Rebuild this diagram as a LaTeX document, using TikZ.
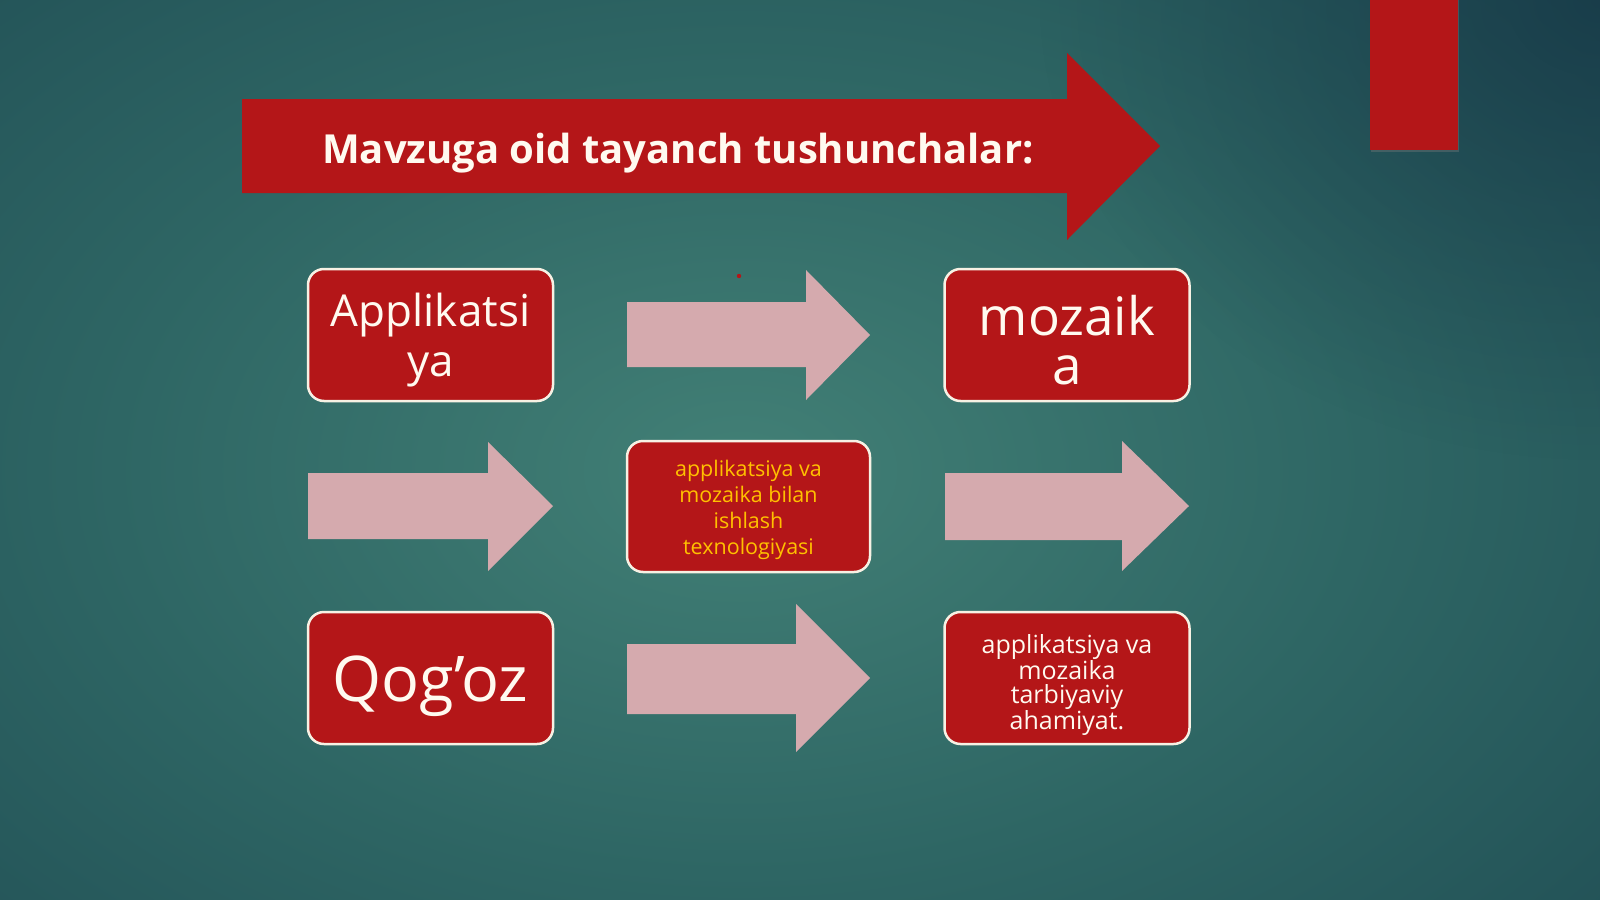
\documentclass[tikz,border=0pt]{standalone}
\usepackage{fontspec}
\setmainfont{Open Sans}
\usetikzlibrary{shadows,fadings}
\definecolor{bgA}{RGB}{66,128,118}
\definecolor{bgB}{RGB}{46,102,100}
\definecolor{bgC}{RGB}{30,74,82}
\definecolor{bgD}{RGB}{24,58,70}
\definecolor{navydark}{RGB}{19,48,66}
\definecolor{redbox}{RGB}{180,22,24}
\definecolor{pinkarrow}{RGB}{213,170,174}
\definecolor{creamline}{RGB}{247,241,228}
\definecolor{creamtext}{RGB}{255,250,240}
\definecolor{yellowtext}{RGB}{255,192,0}
\pgfdeclareradialshading{bgshade}{\pgfpoint{0bp}{0bp}}{color(0bp)=(bgA); color(18bp)=(bgB); color(38bp)=(bgC); color(50bp)=(bgD)}
\tikzfading[name=myradfade, inner color=transparent!0, outer color=transparent!100]
\tikzset{
  conceptbox/.style={draw=creamline, line width=2.5pt, fill=redbox, rounded corners=16pt,
    minimum width=245pt, minimum height=132pt, inner sep=0pt},
  boxtext/.style={align=center, text=creamtext, inner sep=0pt},
  pinkshape/.style={fill=pinkarrow},
  redshape/.style={fill=redbox},
}
\begin{document}
\begin{tikzpicture}[x=1pt,y=-1pt]
\useasboundingbox (0,0) rectangle (1600,899);
% background
\begin{scope}
\clip (0,0) rectangle (1600,899);
\fill[bgD] (0,0) rectangle (1600,899);
\shade[shading=bgshade] (-130,-90) rectangle (1610,1030);
\fill[navydark, path fading=myradfade, fill opacity=0.6] (1600,0) ellipse [x radius=560, y radius=460];
\end{scope}
% top-right red bar
\fill[redbox, drop shadow={shadow xshift=1pt, shadow yshift=-2pt, opacity=0.35}] (1370,-5) rectangle (1458,150);
% big title arrow
\fill[redshape] (242,99) -- (1067,99) -- (1067,53) -- (1160,146) -- (1067,240) -- (1067,193) -- (242,193) -- cycle;
\node[text=creamtext, font=\bfseries\fontsize{40}{44}\selectfont] (title) at (678,153) {Mavzuga oid tayanch tushunchalar:};
% boxes
\node[conceptbox] (applik) at (430.5,335) {};
\node[conceptbox] (mozaik) at (1067,335) {};
\node[conceptbox, minimum width=243pt, minimum height=131pt] (texno) at (748.5,506.5) {};
\node[conceptbox] (qogoz) at (430.5,678) {};
\node[conceptbox] (tarb) at (1067,678) {};
% box texts
\node[boxtext, font=\fontsize{44}{50}\selectfont] (applik-t) at ([yshift=-5pt]applik.center) {Applikatsi\\ya};
\node[boxtext, font=\fontsize{53}{49}\selectfont] (mozaik-t) at ([yshift=-5pt]mozaik.center) {mozaik\\a};
\node[boxtext, text=yellowtext, font=\fontsize{21.5}{26}\selectfont] (texno-t) at ([yshift=-3pt]texno.center) {applikatsiya va\\mozaika bilan\\ishlash\\texnologiyasi};
\node[boxtext, font=\fontsize{63}{66}\selectfont] (qogoz-t) at ([yshift=-8pt]qogoz.center) {Qog’oz};
\node[boxtext, font=\fontsize{25}{24.3}\selectfont] (tarb-t) at ([yshift=-7pt]tarb.center) {applikatsiya va\\mozaika\\tarbiyaviy\\ahamiyat.};
% pink arrows
\fill[pinkshape] (627,302) -- (806,302) -- (806,270) -- (870,335) -- (806,400) -- (806,367) -- (627,367) -- cycle;
\fill[pinkshape] (308,473) -- (488,473) -- (488,442) -- (553,506) -- (488,571) -- (488,539) -- (308,539) -- cycle;
\fill[pinkshape] (945,473) -- (1122,473) -- (1122,441) -- (1189,506) -- (1122,571) -- (1122,540) -- (945,540) -- cycle;
\fill[pinkshape] (627,644) -- (796,644) -- (796,604) -- (870,678) -- (796,752) -- (796,714) -- (627,714) -- cycle;
% small red dot
\fill[redbox] (739,276) circle (2.2);
\end{tikzpicture}
\end{document}
